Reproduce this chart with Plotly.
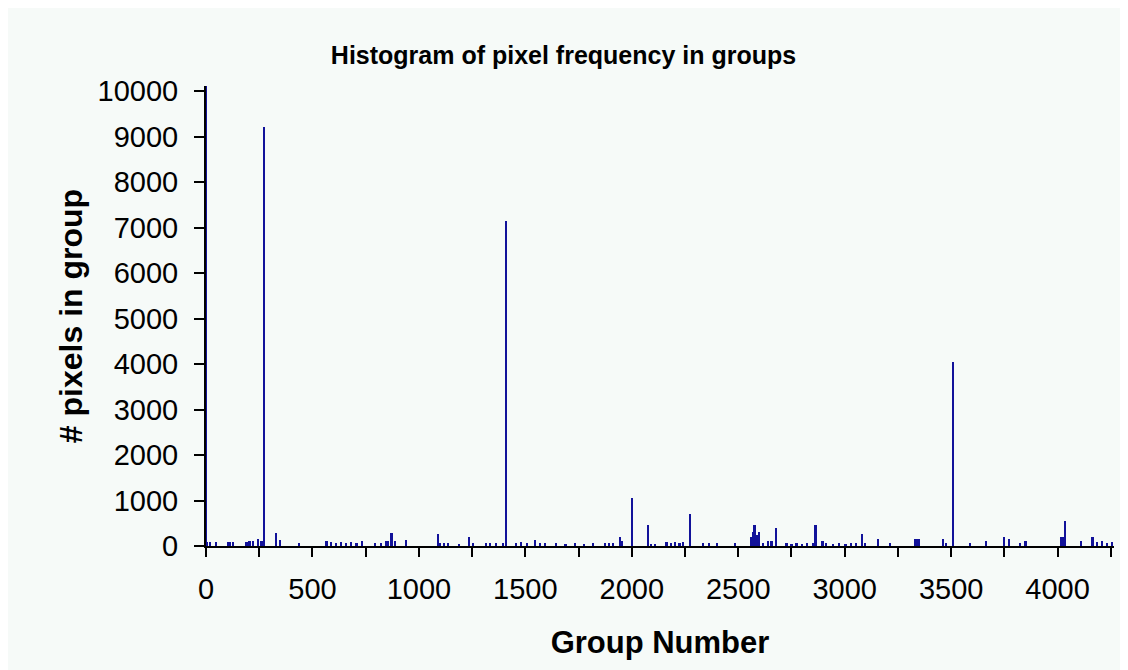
import plotly.graph_objects as go

# Group numbers and pixel counts
groups = [1, 6, 19, 47, 103, 115, 127, 191, 205, 222, 246, 262, 274, 329, 348, 437,
          567, 588, 612, 636, 660, 684, 708, 733, 794, 825, 845, 855, 872, 888, 939,
          1091, 1099, 1118, 1137, 1188, 1237, 1256, 1318, 1334, 1365, 1395, 1409,
          1459, 1480, 1510, 1545, 1570, 1592, 1647, 1690, 1735, 1775, 1818, 1874,
          1895, 1912, 1945, 1954, 2001, 2078, 2090, 2110, 2164, 2185, 2205, 2225,
          2241, 2273, 2335, 2365, 2400, 2485, 2563, 2570, 2578, 2587, 2599, 2618,
          2640, 2657, 2677, 2728, 2751, 2775, 2800, 2825, 2851, 2864, 2897, 2915,
          2945, 2975, 3005, 3030, 3056, 3084, 3095, 3158, 3213, 3330, 3336, 3343,
          3350, 3463, 3476, 3510, 3589, 3664, 3748, 3773, 3826, 3850, 4018, 4024,
          4035, 4113, 4165, 4186, 4210, 4235, 4258]
counts = [10500, 90, 90, 88, 90, 85, 80, 90, 110, 100, 150, 120, 9200, 293, 132, 66,
          110, 80, 75, 85, 70, 80, 75, 110, 66, 66, 110, 110, 293, 110, 132,
          257, 66, 60, 66, 45, 205, 66, 66, 66, 66, 66, 7150,
          60, 80, 70, 132, 66, 60, 60, 50, 66, 50, 66, 66,
          66, 66, 200, 110, 1050, 460, 50, 45, 80, 66, 80, 66,
          80, 710, 66, 66, 66, 66, 200, 308, 460, 250, 308, 66,
          110, 110, 403, 66, 50, 60, 50, 66, 60, 460, 110, 60,
          50, 66, 50, 60, 66, 257, 66, 147, 66, 147, 147, 147,
          147, 147, 66, 4050, 66, 110, 205, 147, 66, 110, 200, 200,
          550, 110, 205, 90, 110, 70, 90]

tick_vals = list(range(0, 4251, 250))
tick_text = [str(v) if v % 500 == 0 else "" for v in tick_vals]
y_ticks = list(range(0, 10001, 1000))
y_text = [str(v) for v in y_ticks]

bg = "#f6faf8"
bold = "Liberation Sans, Arial"
fig = go.Figure(go.Bar(x=groups, y=counts, width=8,
                       marker=dict(color="#12129a", line=dict(width=0))))

fig.update_layout(
    width=1120, height=662,
    paper_bgcolor=bg, plot_bgcolor=bg,
    margin=dict(l=198, r=14, t=78, b=124),
    showlegend=False,
    bargap=0,
    title=dict(text="<b>Histogram of pixel frequency in groups</b>",
               x=0.496, xref="container", xanchor="center",
               y=0.929, yref="container", yanchor="middle",
               font=dict(family=bold, size=25, color="black")),
    xaxis=dict(range=[0, 4265], tickmode="array", tickvals=tick_vals, ticktext=tick_text,
               ticks="outside", ticklen=9, tickwidth=2, tickcolor="black",
               showline=True, linewidth=2, linecolor="black", showgrid=False, zeroline=False,
               tickfont=dict(family="Liberation Sans, Arial", size=29, color="black"),
               ticklabelstandoff=7, automargin=False,
               title=dict(text="<b>Group Number</b>", standoff=28,
                          font=dict(family=bold, size=31, color="black"))),
    yaxis=dict(range=[0, 10110], tickmode="array", tickvals=y_ticks, ticktext=y_text,
               ticks="outside", ticklen=10, tickwidth=2, tickcolor="black",
               showline=True, linewidth=2, linecolor="black", showgrid=False, zeroline=False,
               tickfont=dict(family="Liberation Sans, Arial", size=29, color="black"),
               ticklabelstandoff=10, automargin=False,
               title=dict(text="<b># pixels in group</b>", standoff=5,
                          font=dict(family=bold, size=32, color="black"))),
)

fig.write_html("out.html")
